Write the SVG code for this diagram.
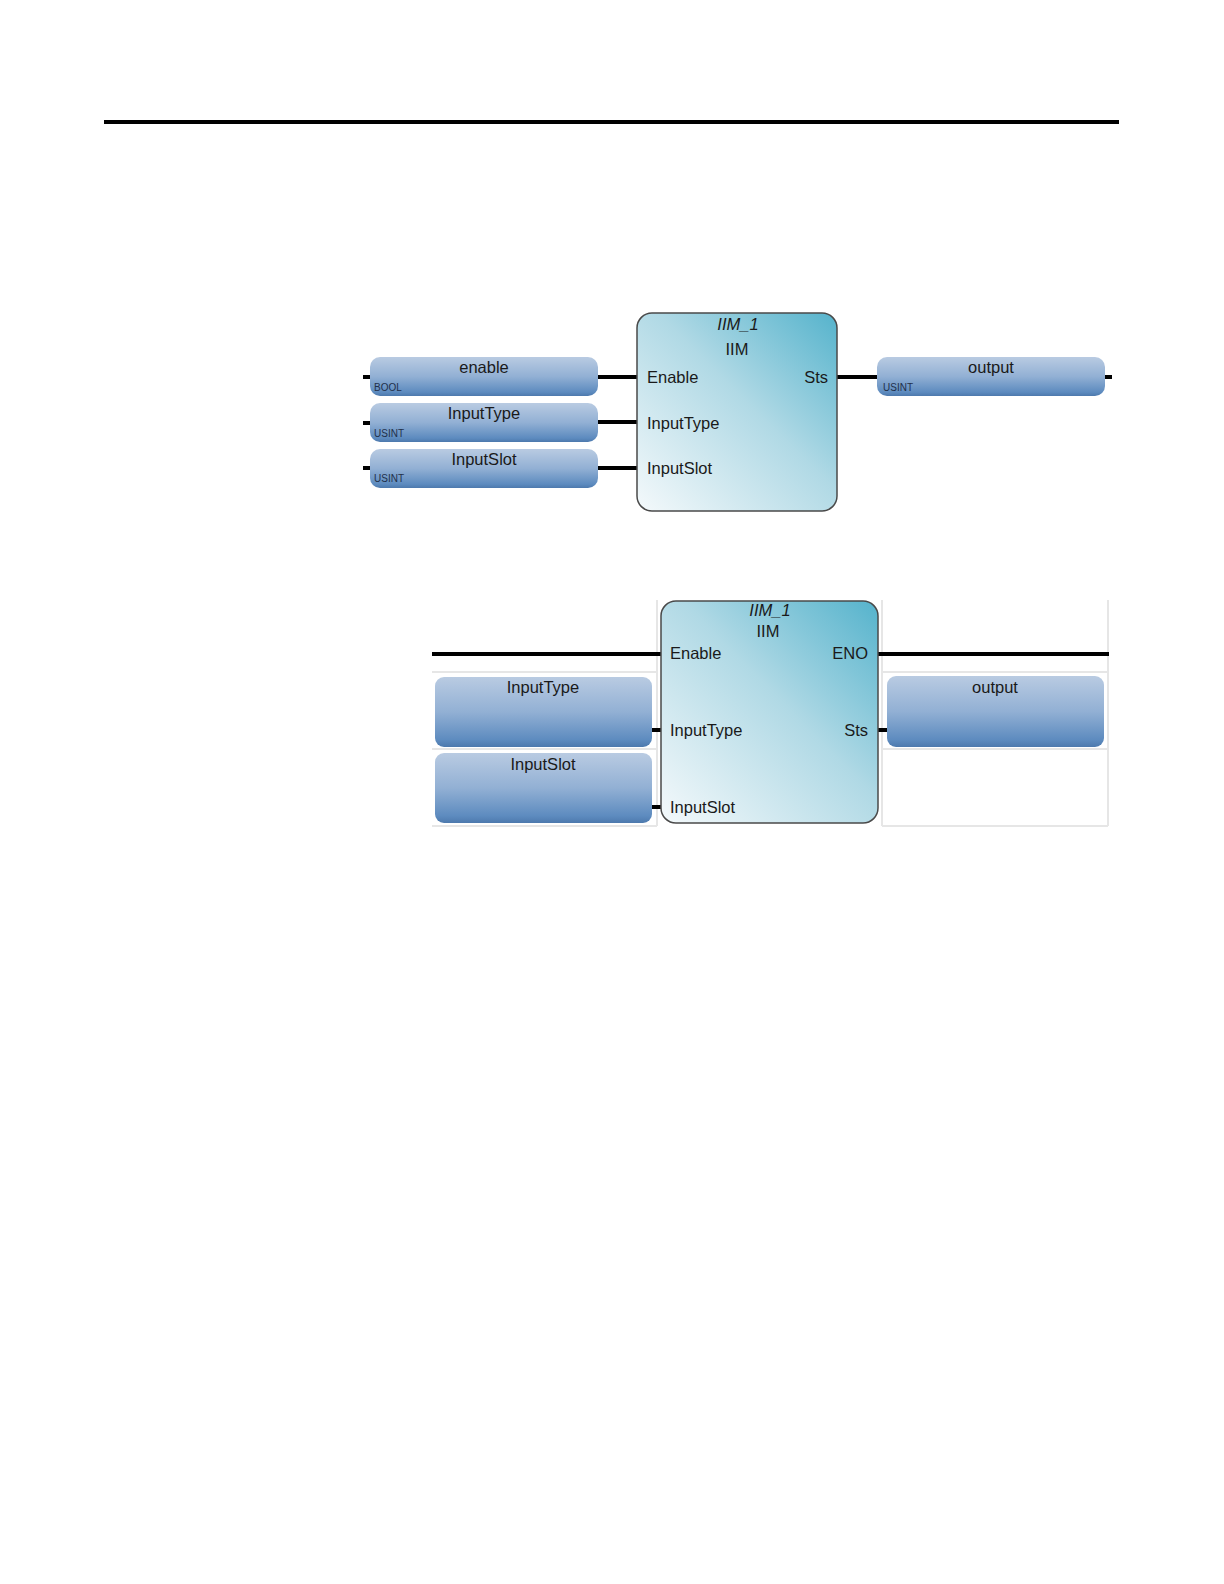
<svg xmlns="http://www.w3.org/2000/svg" width="1224" height="1584" viewBox="0 0 1224 1584">
<defs>
<linearGradient id="varg" x1="0" y1="0" x2="0" y2="1">
<stop offset="0" stop-color="#b9cbe2"/>
<stop offset="0.5" stop-color="#92b0d4"/>
<stop offset="0.9" stop-color="#5d8bbf"/>
<stop offset="1" stop-color="#4d79ad"/>
</linearGradient>
<linearGradient id="blkg" x1="0" y1="1" x2="1" y2="0">
<stop offset="0" stop-color="#f4f9fb"/>
<stop offset="0.55" stop-color="#b0d9e5"/>
<stop offset="1" stop-color="#55b3cc"/>
</linearGradient>
<style>
.t{font-family:"Liberation Sans",Arial,sans-serif;fill:#1a1a1a}
.lbl{font-size:16.5px}
.pin{font-size:16.5px}
.typ{font-size:10px;fill:#22304a}
.var{fill:url(#varg)}
.blk{fill:url(#blkg);stroke:#4a4a4a;stroke-width:1.5}
.w{stroke:#000;stroke-width:4;fill:none}
.grid{stroke:#e6e6e6;stroke-width:2;fill:none}
</style>
</defs>
<rect width="1224" height="1584" fill="#fff"/>
<rect x="104" y="120" width="1015" height="4" fill="#000"/>

<!-- Diagram 1 -->
<g id="connectors1">
<line class="w" x1="597" y1="377" x2="640" y2="377"/>
<line class="w" x1="597" y1="422" x2="640" y2="422"/>
<line class="w" x1="597" y1="468" x2="640" y2="468"/>
<line class="w" x1="836" y1="377" x2="878" y2="377"/>
<line class="w" x1="363" y1="377" x2="371" y2="377"/>
<line class="w" x1="363" y1="423" x2="371" y2="423"/>
<line class="w" x1="363" y1="468" x2="371" y2="468"/>
<line class="w" x1="1104" y1="377" x2="1112" y2="377"/>
</g>
<g id="var-enable">
<rect class="var" x="370" y="357" width="228" height="39" rx="10"/>
<text class="t lbl" x="484" y="373" text-anchor="middle">enable</text>
<text class="t typ" x="374" y="391">BOOL</text>
</g>
<g id="var-inputtype">
<rect class="var" x="370" y="403" width="228" height="39" rx="10"/>
<text class="t lbl" x="484" y="419" text-anchor="middle">InputType</text>
<text class="t typ" x="374" y="437">USINT</text>
</g>
<g id="var-inputslot">
<rect class="var" x="370" y="449" width="228" height="39" rx="10"/>
<text class="t lbl" x="484" y="465" text-anchor="middle">InputSlot</text>
<text class="t typ" x="374" y="482">USINT</text>
</g>
<g id="block1">
<rect class="blk" x="637" y="313" width="200" height="198" rx="15"/>
<text class="t lbl" x="738" y="330" text-anchor="middle" font-style="italic">IIM_1</text>
<text class="t pin" x="737" y="355" text-anchor="middle">IIM</text>
<text class="t pin" x="647" y="383">Enable</text>
<text class="t pin" x="647" y="429">InputType</text>
<text class="t pin" x="647" y="474">InputSlot</text>
<text class="t pin" x="828" y="383" text-anchor="end">Sts</text>
</g>
<g id="var-output1">
<rect class="var" x="877" y="357" width="228" height="39" rx="10"/>
<text class="t lbl" x="991" y="373" text-anchor="middle">output</text>
<text class="t typ" x="883" y="391">USINT</text>
</g>

<!-- Diagram 2 -->
<g id="grid2">
<line class="grid" x1="657" y1="600" x2="657" y2="826"/>
<line class="grid" x1="882" y1="600" x2="882" y2="826"/>
<line class="grid" x1="1108" y1="600" x2="1108" y2="826"/>
<line class="grid" x1="432" y1="672" x2="657" y2="672"/>
<line class="grid" x1="432" y1="749" x2="657" y2="749"/>
<line class="grid" x1="432" y1="826" x2="657" y2="826"/>
<line class="grid" x1="882" y1="672" x2="1108" y2="672"/>
<line class="grid" x1="882" y1="749" x2="1108" y2="749"/>
<line class="grid" x1="882" y1="826" x2="1108" y2="826"/>
</g>
<g id="connectors2">
<line class="w" x1="432" y1="654" x2="665" y2="654"/>
<line class="w" x1="873" y1="654" x2="1109" y2="654"/>
<line class="w" x1="648" y1="730" x2="665" y2="730"/>
<line class="w" x1="648" y1="807" x2="665" y2="807"/>
<line class="w" x1="873" y1="730" x2="891" y2="730"/>
</g>
<g id="var-inputtype2">
<rect class="var" x="435" y="677" width="217" height="70" rx="9"/>
<text class="t lbl" x="543" y="693" text-anchor="middle">InputType</text>
</g>
<g id="var-inputslot2">
<rect class="var" x="435" y="753" width="217" height="70" rx="9"/>
<text class="t lbl" x="543" y="770" text-anchor="middle">InputSlot</text>
</g>
<g id="block2">
<rect class="blk" x="661" y="601" width="217" height="222" rx="15"/>
<text class="t lbl" x="770" y="616" text-anchor="middle" font-style="italic">IIM_1</text>
<text class="t pin" x="768" y="637" text-anchor="middle">IIM</text>
<text class="t pin" x="670" y="659">Enable</text>
<text class="t pin" x="670" y="736">InputType</text>
<text class="t pin" x="670" y="813">InputSlot</text>
<text class="t pin" x="868" y="659" text-anchor="end">ENO</text>
<text class="t pin" x="868" y="736" text-anchor="end">Sts</text>
</g>
<g id="var-output2">
<rect class="var" x="887" y="676" width="217" height="71" rx="9"/>
<text class="t lbl" x="995" y="693" text-anchor="middle">output</text>
</g>
</svg>
